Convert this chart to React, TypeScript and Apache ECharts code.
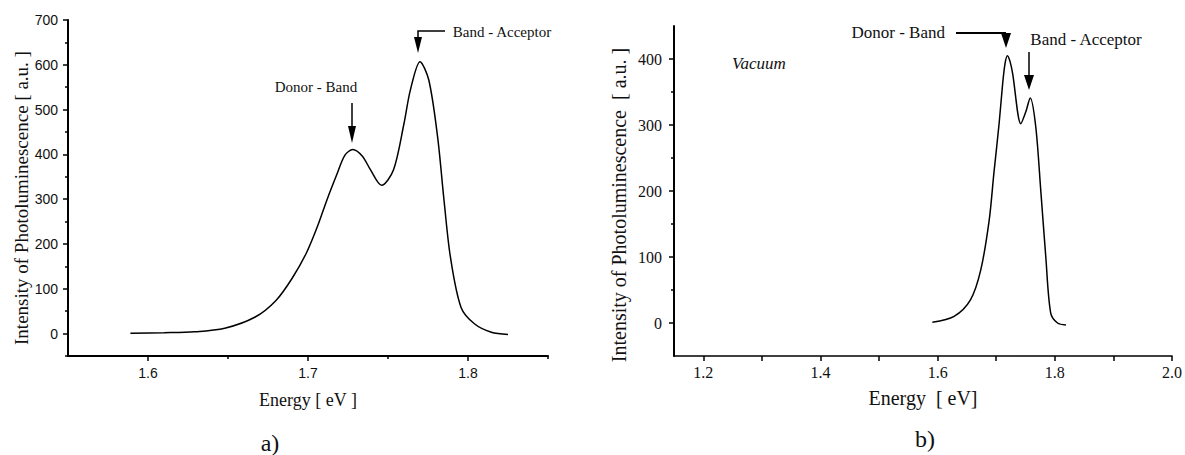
import React, { useEffect, useRef } from "react";
import * as echarts from "echarts";

// ---- data ----
const leftEnergy = [1.589, 1.61, 1.629, 1.648, 1.667, 1.68, 1.69, 1.699, 1.706, 1.712, 1.718, 1.723, 1.728, 1.734, 1.739, 1.746, 1.7534, 1.76, 1.764, 1.77, 1.7755, 1.781, 1.785, 1.789, 1.7956, 1.804, 1.8146, 1.825];
const leftIntensity = [1, 2, 4, 12, 37, 74, 123, 180, 240, 300, 355, 398, 411, 396, 366, 331, 365, 469, 544, 607, 566, 439, 298, 171, 59, 22, 3, -2];

const rightEnergy = [1.591, 1.628, 1.656, 1.6735, 1.688, 1.696, 1.705, 1.711, 1.715, 1.719, 1.7236, 1.728, 1.742, 1.7505, 1.758, 1.7675, 1.776, 1.7846, 1.793, 1.8046, 1.819];
const rightIntensity = [1, 10, 35, 80, 156, 227, 303, 363, 393, 405, 396, 378, 302, 320, 341, 297, 201, 100, 15, 0, -3];

const leftXMajor = [1.6, 1.7, 1.8];
const leftXMinor = [1.65, 1.75, 1.85];
const leftYMajor = [0, 100, 200, 300, 400, 500, 600, 700];
const leftYMinor = [-50, 50, 150, 250, 350, 450, 550, 650];

const rightXTicks = [1.2, 1.3, 1.4, 1.5, 1.6, 1.7, 1.8, 1.9, 2.0];
const rightXLabels = [1.2, 1.4, 1.6, 1.8, 2.0];
const rightYMajor = [0, 100, 200, 300, 400];
const rightYMinor = [50, 150, 250, 350];

const SERIF = "'Liberation Serif', 'DejaVu Serif', serif";
const SANS = "'Liberation Sans', Arial, sans-serif";
const INK = "#111";

function xAxisBase(gridIndex: number, min: number, max: number) {
  return {
    type: "value" as const,
    gridIndex,
    min,
    max,
    position: "bottom" as const,
    splitLine: { show: false },
  };
}

function yAxisBase(gridIndex: number, min: number, max: number) {
  return {
    type: "value" as const,
    gridIndex,
    min,
    max,
    position: "left" as const,
    splitLine: { show: false },
  };
}

export default function App() {
  const ref = useRef<HTMLDivElement>(null);

  useEffect(() => {
    if (!ref.current) return;
    const chart = echarts.init(ref.current, undefined, { renderer: "svg" });

    const text = (
      t: string,
      x: number,
      y: number,
      size: number,
      opts: any = {}
    ) => ({
      type: "text",
      x,
      y,
      rotation: opts.rotation || 0,
      style: {
        text: t,
        fill: INK,
        font: `${opts.italic ? "italic " : ""}${size}px ${opts.family || SERIF}`,
        align: opts.align || "center",
        verticalAlign: "middle",
      },
    });

    const lineStyle = { stroke: "#000", lineWidth: 1.5 };
    const tickStyle = { color: "#000", width: 1.5 };

    chart.setOption({
      animation: false,
      backgroundColor: "#fff",
      grid: [
        { left: 68, top: 20, width: 480, height: 336 },
        { left: 674, top: 26, width: 498, height: 330 },
      ],
      xAxis: [
        {
          ...xAxisBase(0, 1.55, 1.85),
          axisLine: { onZero: false, lineStyle: { color: "#000", width: 2 } },
          axisTick: { customValues: leftXMajor, length: 5, lineStyle: tickStyle },
          axisLabel: {
            customValues: leftXMajor,
            formatter: (v: number) => v.toFixed(1),
            color: INK,
            fontFamily: SANS,
            fontSize: 14,
            margin: 10,
          },
        },
        {
          ...xAxisBase(0, 1.55, 1.85),
          axisLine: { show: false, onZero: false },
          axisTick: { customValues: leftXMinor, length: 3, lineStyle: tickStyle },
          axisLabel: { show: false },
        },
        {
          ...xAxisBase(1, 1.15, 2.0),
          axisLine: { onZero: false, lineStyle: { color: "#000", width: 1.5 } },
          axisTick: { customValues: rightXTicks, length: 5, lineStyle: tickStyle },
          axisLabel: {
            customValues: rightXLabels,
            formatter: (v: number) => v.toFixed(1),
            color: INK,
            fontFamily: SERIF,
            fontSize: 16,
            margin: 8,
          },
        },
      ],
      yAxis: [
        {
          ...yAxisBase(0, -50, 700),
          axisLine: { onZero: false, lineStyle: { color: "#000", width: 2 } },
          axisTick: { customValues: leftYMajor, length: 5, lineStyle: tickStyle },
          axisLabel: {
            customValues: leftYMajor,
            color: INK,
            fontFamily: SANS,
            fontSize: 14,
            margin: 10,
          },
        },
        {
          ...yAxisBase(0, -50, 700),
          axisLine: { show: false, onZero: false },
          axisTick: { customValues: leftYMinor, length: 3, lineStyle: tickStyle },
          axisLabel: { show: false },
        },
        {
          ...yAxisBase(1, -50, 450),
          axisLine: { onZero: false, lineStyle: { color: "#000", width: 2 } },
          axisTick: { customValues: rightYMajor, length: 5, lineStyle: tickStyle },
          axisLabel: {
            customValues: rightYMajor,
            color: INK,
            fontFamily: SERIF,
            fontSize: 16,
            margin: 12,
          },
        },
        {
          ...yAxisBase(1, -50, 450),
          axisLine: { show: false, onZero: false },
          axisTick: { customValues: rightYMinor, length: 3, lineStyle: tickStyle },
          axisLabel: { show: false },
        },
      ],
      series: [
        {
          type: "line",
          xAxisIndex: 0,
          yAxisIndex: 0,
          data: leftEnergy.map((e, i) => [e, leftIntensity[i]]),
          smooth: 0.3,
          showSymbol: false,
          lineStyle: { color: "#000", width: 1.5 },
        },
        {
          type: "line",
          xAxisIndex: 2,
          yAxisIndex: 2,
          data: rightEnergy.map((e, i) => [e, rightIntensity[i]]),
          smooth: 0.3,
          showSymbol: false,
          lineStyle: { color: "#000", width: 1.5 },
        },
      ],
      graphic: [
        // axis titles
        text("Intensity of Photoluminescence [ a.u. ]", 21, 198, 19, { rotation: Math.PI / 2 }),
        text("Intensity of Photoluminescence  [ a.u. ]", 619, 205, 20, { rotation: Math.PI / 2 }),
        text("Energy [ eV ]", 308, 400, 18),
        text("Energy  [ eV]", 923, 398, 20),
        text("a)", 270, 443, 24),
        text("b)", 925, 439, 24),
        // left annotations
        text("Donor - Band", 316, 87, 15),
        text("Band - Acceptor", 502, 32, 15),
        { type: "line", shape: { x1: 352, y1: 103, x2: 352, y2: 128 }, style: lineStyle },
        { type: "polygon", shape: { points: [[348, 126], [356, 126], [352, 143]] }, style: { fill: "#000" } },
        { type: "polyline", shape: { points: [[445, 31], [418, 31], [418, 40]] }, style: lineStyle },
        { type: "polygon", shape: { points: [[414, 37], [422, 37], [418, 53]] }, style: { fill: "#000" } },
        // right annotations
        text("Vacuum", 732, 63, 17, { align: "left", italic: true }),
        text("Donor - Band", 945, 32, 17, { align: "right" }),
        text("Band - Acceptor", 1086, 39, 17),
        { type: "line", shape: { x1: 956, y1: 33, x2: 1006, y2: 33 }, style: { stroke: "#000", lineWidth: 2 } },
        { type: "polygon", shape: { points: [[1001, 33], [1011, 33], [1006, 48]] }, style: { fill: "#000" } },
        { type: "line", shape: { x1: 1029, y1: 52, x2: 1029, y2: 77 }, style: lineStyle },
        { type: "polygon", shape: { points: [[1024, 75], [1034, 75], [1029, 90]] }, style: { fill: "#000" } },
      ],
    });

    return () => chart.dispose();
  }, []);

  return (
    <div
      ref={ref}
      style={{ position: "absolute", left: 0, top: 0, width: 1185, height: 455, background: "#fff" }}
    />
  );
}
